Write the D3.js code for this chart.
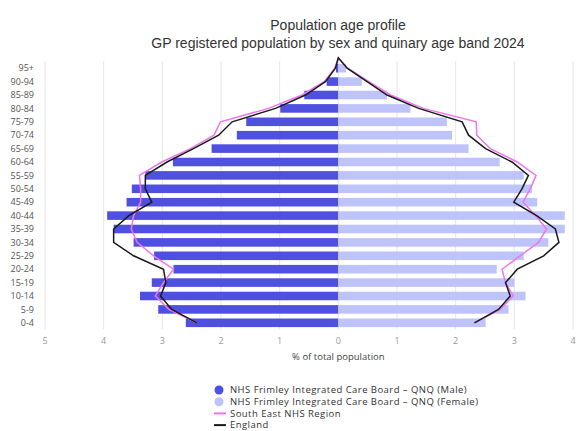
<!DOCTYPE html>
<html>
<head>
<meta charset="utf-8">
<script src="https://cdn.jsdelivr.net/npm/d3@7"></script>
<style>
  html, body { margin: 0; padding: 0; background: #fff; }
  svg { display: block; }
</style>
</head>
<body>
<svg id="chart" width="577" height="431"></svg>
<script>
const ageBands = ["0-4","5-9","10-14","15-19","20-24","25-29","30-34","35-39","40-44","45-49","50-54","55-59","60-64","65-69","70-74","75-79","80-84","85-89","90-94","95+"];
const frimleyMale   = [2.60,3.07,3.38,3.18,2.81,3.14,3.49,3.83,3.94,3.61,3.52,3.29,2.82,2.16,1.73,1.57,0.99,0.58,0.20,0.04];
const frimleyFemale = [2.51,2.90,3.19,3.00,2.70,3.16,3.58,3.86,3.86,3.39,3.30,3.16,2.75,2.22,1.94,1.85,1.23,0.83,0.40,0.13];
const southEastMale   = [2.41,2.89,3.12,2.98,2.81,3.15,3.43,3.53,3.49,3.37,3.37,3.39,3.01,2.52,2.12,2.01,1.19,0.62,0.24,0.06];
const southEastFemale = [2.32,2.76,2.98,2.85,2.79,3.10,3.41,3.55,3.36,3.15,3.27,3.37,3.05,2.59,2.36,2.35,1.45,0.89,0.52,0.16];
const englandMale   = [2.41,2.84,3.03,2.94,2.98,3.49,3.83,3.83,3.57,3.18,3.29,3.29,2.92,2.47,2.04,1.81,1.07,0.56,0.22,0.05];
const englandFemale = [2.32,2.73,2.93,2.85,3.05,3.50,3.76,3.70,3.38,2.99,3.13,3.24,2.96,2.51,2.22,2.11,1.37,0.83,0.49,0.15];
const xTickValues = [-5,-4,-3,-2,-1,0,1,2,3,4];
const xTickLabels = ["5","4","3","2","1","0","1","2","3","4"];
const titleLines = ["Population age profile","GP registered population by sex and quinary age band 2024"];
const xAxisTitle = "% of total population";
const legendLabels = ["NHS Frimley Integrated Care Board \u2013 QNQ (Male)","NHS Frimley Integrated Care Board \u2013 QNQ (Female)","South East NHS Region","England"];

const colMale = "#4f4fe0", colFemale = "#bec4fa", colSE = "#f075ee", colEng = "#1a1a1a";
const svg = d3.select("#chart");
const x = d3.scaleLinear().domain([-5, 4]).range([45, 573]);
const y = d3.scaleBand().domain(ageBands.slice().reverse()).range([61.5, 329.5]).paddingInner(0.36).paddingOuter(0.18);
const step = y.step();
const yc = d => y(d) + y.bandwidth() / 2;

// gridlines
svg.append("g").selectAll("line").data(xTickValues).join("line")
  .attr("x1", d => x(d)).attr("x2", d => x(d))
  .attr("y1", 61).attr("y2", 329)
  .attr("stroke", "#e6e6e6").attr("stroke-width", 1);

// bars
const rows = ageBands.map((a, i) => ({a, m: frimleyMale[i], f: frimleyFemale[i]}));
svg.append("g").selectAll("rect").data(rows).join("rect")
  .attr("x", d => x(-d.m)).attr("width", d => x(0) - x(-d.m))
  .attr("y", d => y(d.a)).attr("height", y.bandwidth())
  .attr("fill", colMale);
svg.append("g").selectAll("rect").data(rows).join("rect")
  .attr("x", x(0)).attr("width", d => x(d.f) - x(0))
  .attr("y", d => y(d.a)).attr("height", y.bandwidth())
  .attr("fill", colFemale);

// lines: left side up to apex, then right side down
const topY = y("95+") - step * 0.45;
function pyramidPath(male, female) {
  const pts = [];
  ageBands.forEach((a, i) => pts.push([x(-male[i]), yc(a)]));
  pts.push([x(0), topY]);
  for (let i = ageBands.length - 1; i >= 0; i--) pts.push([x(female[i]), yc(ageBands[i])]);
  return d3.line()(pts);
}
svg.append("path").attr("d", pyramidPath(southEastMale, southEastFemale))
  .attr("fill", "none").attr("stroke", colSE).attr("stroke-width", 1.5);
svg.append("path").attr("d", pyramidPath(englandMale, englandFemale))
  .attr("fill", "none").attr("stroke", colEng).attr("stroke-width", 1.5);

// y labels
const lblFont = "'Open Sans', 'DejaVu Sans', sans-serif";
svg.append("g").selectAll("text").data(ageBands).join("text")
  .attr("x", 34).attr("y", d => yc(d)).attr("dy", "0.35em")
  .attr("text-anchor", "end").attr("font-family", lblFont).attr("font-size", 9)
  .attr("fill", "#555").text(d => d);

// x tick labels
svg.append("g").selectAll("text").data(xTickValues).join("text")
  .attr("x", d => x(d)).attr("y", 344)
  .attr("text-anchor", "middle").attr("font-family", lblFont).attr("font-size", 9)
  .attr("fill", "#999").text((d, i) => xTickLabels[i]);

svg.append("text").attr("x", x(0)).attr("y", 360)
  .attr("text-anchor", "middle").attr("font-family", lblFont).attr("font-size", 9.5)
  .attr("fill", "#444").text(xAxisTitle);

// title
svg.append("g").selectAll("text").data(titleLines).join("text")
  .attr("x", 338).attr("y", (d, i) => 30 + i * 18)
  .attr("text-anchor", "middle").attr("font-family", "'Liberation Sans', Arial, sans-serif")
  .attr("font-size", 14).attr("fill", "#333").text(d => d);

// legend
const lg = svg.append("g");
const legY = i => 390 + i * 11.7;
lg.append("circle").attr("cx", 219).attr("cy", legY(0)).attr("r", 4.5).attr("fill", colMale);
lg.append("circle").attr("cx", 219).attr("cy", legY(1)).attr("r", 4.5).attr("fill", colFemale);
lg.append("line").attr("x1", 214).attr("x2", 226).attr("y1", legY(2)).attr("y2", legY(2)).attr("stroke", colSE).attr("stroke-width", 2);
lg.append("line").attr("x1", 214).attr("x2", 226).attr("y1", legY(3)).attr("y2", legY(3)).attr("stroke", colEng).attr("stroke-width", 2);
lg.selectAll("text").data(legendLabels).join("text")
  .attr("x", 230).attr("y", (d, i) => legY(i)).attr("dy", "0.35em")
  .attr("font-family", lblFont).attr("font-size", 9.5).attr("letter-spacing", 0.45)
  .attr("fill", "#333").text(d => d);
</script>
</body>
</html>
